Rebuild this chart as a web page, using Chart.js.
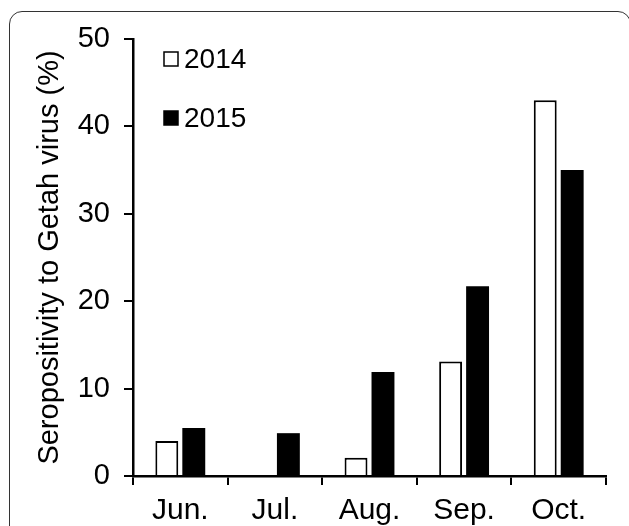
<!DOCTYPE html>
<html>
<head>
<meta charset="utf-8">
<script src="https://cdn.jsdelivr.net/npm/chart.js@4"></script>
<style>
  html, body { margin: 0; padding: 0; background: #fff; overflow: hidden; }
  #frame { position: absolute; left: 9px; top: 11px; width: 622px; height: 540px;
           border: 1.5px solid #333; border-radius: 13px; box-sizing: border-box; }
  #wrap { position: absolute; left: 0; top: 0; width: 629px; height: 526px; }
</style>
</head>
<body>
<div id="frame"></div>
<div id="wrap"><canvas id="seroChart"></canvas></div>
<script>
const months = ['Jun.', 'Jul.', 'Aug.', 'Sep.', 'Oct.'];
const sero2014 = [4.0, null, 2.1, 13.1, 43.0];
const sero2015 = [5.5, 4.9, 11.9, 21.7, 35.0];
const yTicks = [0, 10, 20, 30, 40, 50];

const FONT = 'Liberation Sans, Arial, Helvetica, sans-serif';

// legend drawn inside the plot, top-left, like the original figure
const insideLegend = {
  id: 'insideLegend',
  afterDraw(chart) {
    const { ctx, chartArea } = chart;
    ctx.save();
    ctx.font = '28px ' + FONT;
    ctx.textBaseline = 'middle';
    chart.data.datasets.forEach((ds, i) => {
      const x = chartArea.left + 31;
      const y = chartArea.top + 20 + i * 59;
      ctx.fillStyle = ds.backgroundColor;
      ctx.fillRect(x, y - 7, 14, 14);
      ctx.strokeStyle = '#000';
      ctx.lineWidth = 1.5;
      ctx.strokeRect(x, y - 7, 14, 14);
      ctx.fillStyle = '#000';
      ctx.fillText(ds.label, x + 20, y + 1);
    });
    ctx.restore();
  },
};

new Chart(document.getElementById('seroChart'), {
  type: 'bar',
  data: {
    labels: months,
    datasets: [
      { label: '2014', data: sero2014, backgroundColor: '#ffffff', borderColor: '#000', borderWidth: 2 },
      { label: '2015', data: sero2015, backgroundColor: '#000000', borderColor: '#000', borderWidth: 0 },
    ],
  },
  options: {
    responsive: true, maintainAspectRatio: false, animation: false,
    categoryPercentage: 0.57, barPercentage: 0.85,
    layout: { padding: { left: 0, top: 39, right: 23, bottom: 0 } },
    plugins: { legend: { display: false }, tooltip: { enabled: false } },
    scales: {
      x: {
        afterFit: (s) => { s.height = 50; },
        grid: { drawOnChartArea: false, drawTicks: true, tickLength: 9, color: '#000', lineWidth: 2 },
        border: { color: '#000', width: 2.5 },
        ticks: { color: '#000', font: { size: 30, family: FONT }, padding: 8, maxRotation: 0 },
      },
      y: {
        min: 0, max: 50,
        afterFit: (s) => { s.width = 133; },
        afterBuildTicks: (s) => { s.ticks = yTicks.map(v => ({ value: v })); },
        grid: { drawOnChartArea: false, drawTicks: true, tickLength: 9, color: '#000', lineWidth: 2 },
        border: { color: '#000', width: 2.5 },
        ticks: { color: '#000', font: { size: 29, family: FONT }, padding: 14 },
        title: {
          display: true, text: 'Seropositivity to Getah virus (%)', color: '#000',
          font: { size: 29, family: FONT }, padding: { top: 33, bottom: 0 },
        },
      },
    },
  },
  plugins: [insideLegend],
});
</script>
</body>
</html>
